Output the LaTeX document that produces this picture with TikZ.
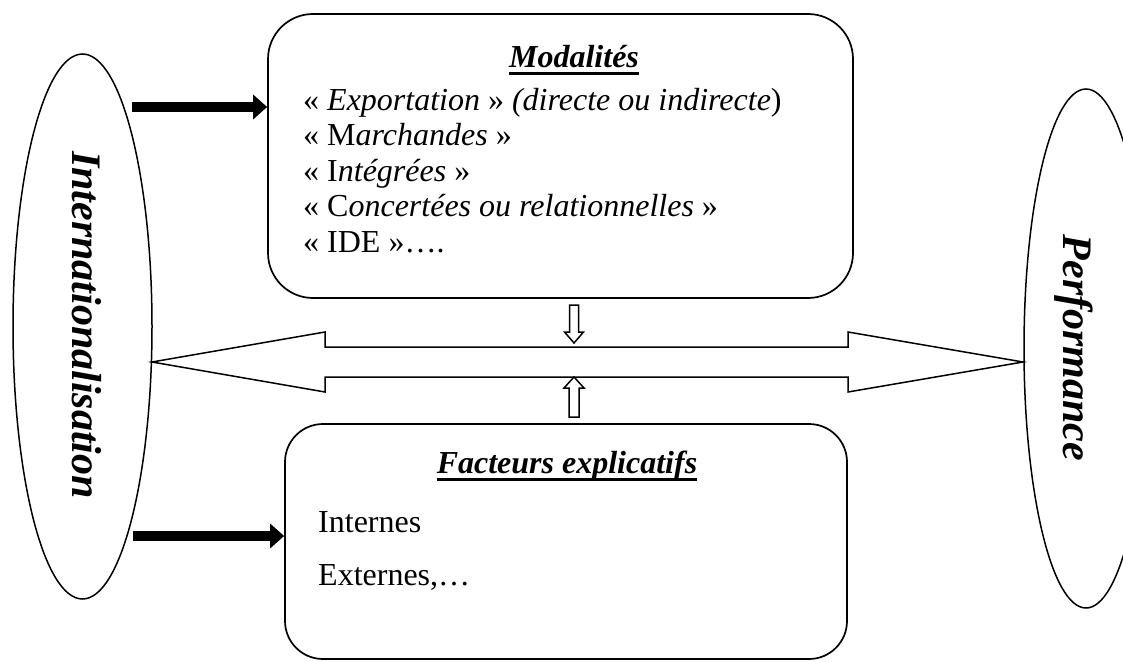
\documentclass[tikz,border=0pt]{standalone}
\usepackage{fontspec}
\setmainfont{Liberation Serif}
\usetikzlibrary{shapes.geometric,arrows.meta}
\newcommand{\titre}[1]{\setbox0\hbox{\bfseries\itshape #1}\rlap{\rule[-8pt]{\wd0}{3.5pt}}\box0}

\begin{document}
\begin{tikzpicture}[x=1pt,y=-1pt,
  cadre/.style={draw, line width=1.7pt, rounded corners=45pt},
  bulle/.style={draw, ellipse, line width=1.5pt, inner sep=0pt},
  grosse/.style={line width=10pt, -{Triangle[length=14pt,width=24pt]}},
  bloc/.style={draw, line width=1.5pt, line join=miter},
  etiquette/.style={font=\fontsize{42}{46}\selectfont\bfseries\itshape, rotate=-90},
  ligne/.style={anchor=base west, inner sep=0pt, font=\fontsize{32}{36}\selectfont}]
\useasboundingbox (0,0) rectangle (1123,661);

\node[bulle, minimum width=139pt, minimum height=545pt] (inter) at (82.5,326.5) {};
\node[etiquette] (interT) at (87,325) {Internationalisation};
\node[bulle, minimum width=124pt, minimum height=519pt] (perf) at (1086,348.5) {};
\node[etiquette] (perfT) at (1074,348) {Performance};

\node[cadre, minimum width=585pt, minimum height=284pt] (modal) at (560.5,156) {};
\node[cadre, rounded corners=38pt, minimum width=562pt, minimum height=235pt] (facteurs) at (566,541.5) {};

\node[ligne, anchor=base] (modalT) at (574,67) {\titre{Modalités}};
\foreach \txt [count=\i from 0] in {%
  {« \textit{Exportation} » \textit{(directe ou indirecte})},
  {« M\textit{archandes} »},
  {« I\textit{ntégrées} »},
  {« C\textit{oncertées ou relationnelles} »},
  {« IDE »….}}
  \node[ligne] (mod\i) at (303,{110+35.5*\i}) {\txt};

\node[ligne, anchor=base] (factT) at (567,473) {\titre{Facteurs explicatifs}};
\node[ligne] (interne) at (318,532) {Internes};
\node[ligne] (externe) at (318,585) {Externes,…};

\coordinate (depart1) at (132,107);
\coordinate (depart2) at (133,536);
\draw[grosse] (depart1) -- (depart1 -| modal.west);
\draw[grosse] (depart2) -- (depart2 -| facteurs.west);

\coordinate (pointeG) at (152,362);
\coordinate (pointeD) at (1023,362);
\draw[bloc] (pointeG) -- ++(173,-30) -- ++(0,15) -- ++(523,0) -- ++(0,-15) -- (pointeD)
  -- ++(-175,30) -- ++(0,-15) -- ++(-523,0) -- ++(0,15) -- cycle;

\coordinate (basB) at (574,343);
\draw[bloc] (basB) -- ++(-9.5,-11) -- ++(5,0) -- ++(0,-27) -- ++(9,0) -- ++(0,27) -- ++(5,0) -- cycle;
\coordinate (hautH) at (574,377);
\draw[bloc] (hautH) -- ++(-10,11) -- ++(5,0) -- ++(0,29) -- ++(10,0) -- ++(0,-29) -- ++(5,0) -- cycle;
\end{tikzpicture}
\end{document}
